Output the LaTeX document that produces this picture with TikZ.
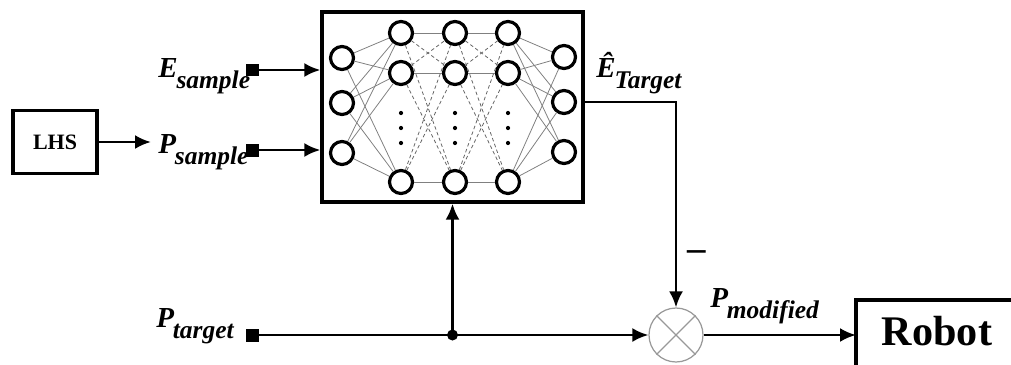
\documentclass[tikz,border=0pt]{standalone}
\usepackage{fontspec}
\setmainfont{Liberation Serif}
\usetikzlibrary{arrows.meta}

\newcommand{\quant}[2]{{\fontsize{16.5}{16.5}\selectfont\bfseries\itshape #1\kern-0.04em\raisebox{-0.85ex}{\fontsize{14.5}{14.5}\selectfont #2}}}

\tikzset{
	neuron/.style={circle, draw, line width=1.8pt, minimum size=0.46cm, inner sep=0pt},
	link/.style={black!50, line width=0.45pt},
	dlink/.style={black!60, line width=0.45pt, dash pattern=on 2pt off 1.5pt},
	frame/.style={draw, line width=1.9pt},
	feed/.style={line width=1.5pt, -{Latex[length=0.32cm,width=0.28cm]}},
	port/.style={fill, minimum size=0.26cm, inner sep=0pt},
	lab/.style={anchor=base west, inner sep=0pt}
}

\begin{document}
\begin{tikzpicture}[x=0.02cm, y=-0.02cm]
	\useasboundingbox (0,0) rectangle (1011,365);

	\node[frame, minimum width=5.22cm, minimum height=3.8cm] (nnbox) at (452.5,107) {};

	\node[neuron] (i1) at (342,58) {};
	\node[neuron] (i2) at (342,103) {};
	\node[neuron] (i3) at (342,153) {};

	\node[neuron] (a1) at (401,33) {};
	\node[neuron] (a2) at (401,73) {};
	\node[neuron] (a3) at (401,182) {};
	\node[neuron] (b1) at (455,33) {};
	\node[neuron] (b2) at (455,73) {};
	\node[neuron] (b3) at (455,182) {};
	\node[neuron] (c1) at (508,33) {};
	\node[neuron] (c2) at (508,73) {};
	\node[neuron] (c3) at (508,182) {};

	\node[neuron] (o1) at (564,57) {};
	\node[neuron] (o2) at (564,102) {};
	\node[neuron] (o3) at (564,152) {};

	\foreach \m in {1,2,3}
		\foreach \n in {1,2,3} {
			\draw[link] (i\m) -- (a\n);
			\draw[link] (c\m) -- (o\n);
		}
	\foreach \m in {1,2,3}
		\foreach \n in {1,2,3} {
			\ifnum\m=\n
				\draw[link] (a\m) -- (b\n);
				\draw[link] (b\m) -- (c\n);
			\else
				\draw[dlink] (a\m) -- (b\n);
				\draw[dlink] (b\m) -- (c\n);
			\fi
		}

	\foreach \x in {401,455,508}
		\foreach \y in {113,128,143}
			\fill (\x,\y) circle (1.2pt);

	\node[lab] (esample) at (158,77) {\quant{E}{sample}};
	\node[port] (esq) at (252,70) {};
	\draw[feed] (esq) -- (esq -| nnbox.west);

	\node[frame, minimum width=1.68cm, minimum height=1.26cm, font=\fontsize{12.5}{12.5}\selectfont\bfseries] (lhs) at (55,142) {LHS};
	\node[lab] (psample) at (158,153) {\quant{P}{sample}};
	\coordinate (lhsend) at (151,142);
	\draw[feed] (lhs) -- (lhsend);
	\node[port] (psq) at (252,150) {};
	\draw[feed] (psq) -- (psq -| nnbox.west);

	\node[lab] (ehat) at (596,77) {\quant{\^{E}}{Target}};
	\node[circle, draw=gray!80, line width=0.7pt, minimum size=1.08cm] (mix) at (676,335) {};
	\draw[gray!80, line width=0.7pt] (mix.45) -- (mix.225) (mix.135) -- (mix.-45);
	\draw[feed] (o2 -| nnbox.east) -| (mix);
	\node (minus) at (697,256) {\fontsize{21}{21}\selectfont\bfseries --};

	\node[lab] (ptarget) at (156,327) {\quant{P}{target}};
	\node[port] (tsq) at (252,335) {};
	\coordinate (jn) at (452.5,335);
	\draw[feed] (tsq) -- (mix);
	\fill (jn) circle (0.11cm);
	\draw[feed] (jn) -- (nnbox.south);

	\node[lab] (pmod) at (710,307) {\quant{P}{modified}};
	\node[font=\fontsize{24}{24}\selectfont\bfseries, anchor=base] (robot) at (937,345) {Robot};
	\draw[frame] (856,385) |- (1030,300);
	\coordinate (rin) at (856,335);
	\draw[feed] (mix) -- (rin);
\end{tikzpicture}
\end{document}
